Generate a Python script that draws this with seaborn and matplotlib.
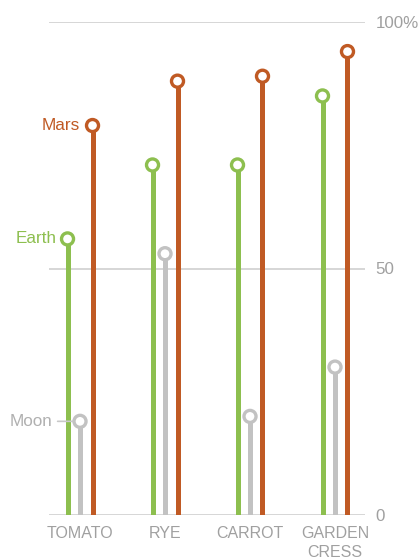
import matplotlib
matplotlib.use("Agg")
import matplotlib.pyplot as plt
import seaborn as sns
import pandas as pd
import numpy as np

categories = ["TOMATO", "RYE", "CARROT", "GARDEN\nCRESS"]
earth = [56, 71, 71, 85]
moon = [19, 53, 20, 30]
mars = [79, 88, 89, 94]
series_names = ["Earth", "Moon", "Mars"]
y_ticks = [0, 50, 100]
y_tick_labels = ["0", "50", "100%"]

colors = {"Earth": "#8dbf4f", "Moon": "#c2c2c2", "Mars": "#c05a24"}
offsets = {"Earth": -0.147, "Moon": 0.0, "Mars": 0.147}

rows = []
for i, c in enumerate(categories):
    for s, vals in zip(series_names, [earth, moon, mars]):
        rows.append({"cat": c, "idx": i, "series": s, "value": vals[i],
                     "x": i + offsets[s]})
df = pd.DataFrame(rows)

sns.set_theme(style="white")
plt.rcParams['font.family'] = ['Liberation Sans', 'DejaVu Sans']

fig = plt.figure(figsize=(4.2, 5.59), dpi=100)
ax = fig.add_axes([49/420, 1 - 515/559, (365-49)/420, (515-22)/559])
ax.set_xlim(-0.365, 3.353)
ax.set_ylim(0, 100)

for t in y_ticks:
    ax.axhline(t, color="#d3d3d3", lw=1.3, zorder=0)

for s in series_names:
    d = df[df.series == s]
    ax.vlines(d["x"], 0, d["value"], color=colors[s], lw=3.6, zorder=2)

sns.scatterplot(data=df, x="x", y="value", hue="series", palette=colors,
                ax=ax, legend=False, zorder=3, clip_on=False, s=75,
                marker="o", linewidth=2.4)
coll = ax.collections[-1]
coll.set_facecolor("white")
coll.set_edgecolors([colors[s] for s in df["series"]])

txt = "#a0a0a0"
for sp in ax.spines.values():
    sp.set_visible(False)
ax.set_xlabel("")
ax.set_ylabel("")
ax.set_xticks(range(len(categories)))
ax.set_xticklabels(categories, color=txt, fontsize=11.5, va="top", linespacing=1.35)
ax.tick_params(axis="x", length=0, pad=8)
ax.yaxis.tick_right()
ax.set_yticks(y_ticks)
ax.set_yticklabels(y_tick_labels, color=txt, fontsize=12.2)
ax.tick_params(axis="y", length=0, pad=7.5)

x0 = 0
ax.annotate("Mars", (x0 + offsets["Mars"], mars[0]), xytext=(-9.4, 0),
            textcoords="offset points", ha="right", va="center",
            color=colors["Mars"], fontsize=12.3)
ax.annotate("Earth", (x0 + offsets["Earth"], earth[0]), xytext=(-8, 0),
            textcoords="offset points", ha="right", va="center",
            color=colors["Earth"], fontsize=12.3)
ax.annotate("Moon", (x0 + offsets["Moon"], moon[0]), xytext=(-20, 0),
            textcoords="offset points", ha="right", va="center",
            color="#b0b0b0", fontsize=12.3, annotation_clip=False,
            arrowprops=dict(arrowstyle="-", color="#c8c8c8", lw=1.2,
                            shrinkA=1.5, shrinkB=5))

fig.savefig("out.png", dpi=100)
